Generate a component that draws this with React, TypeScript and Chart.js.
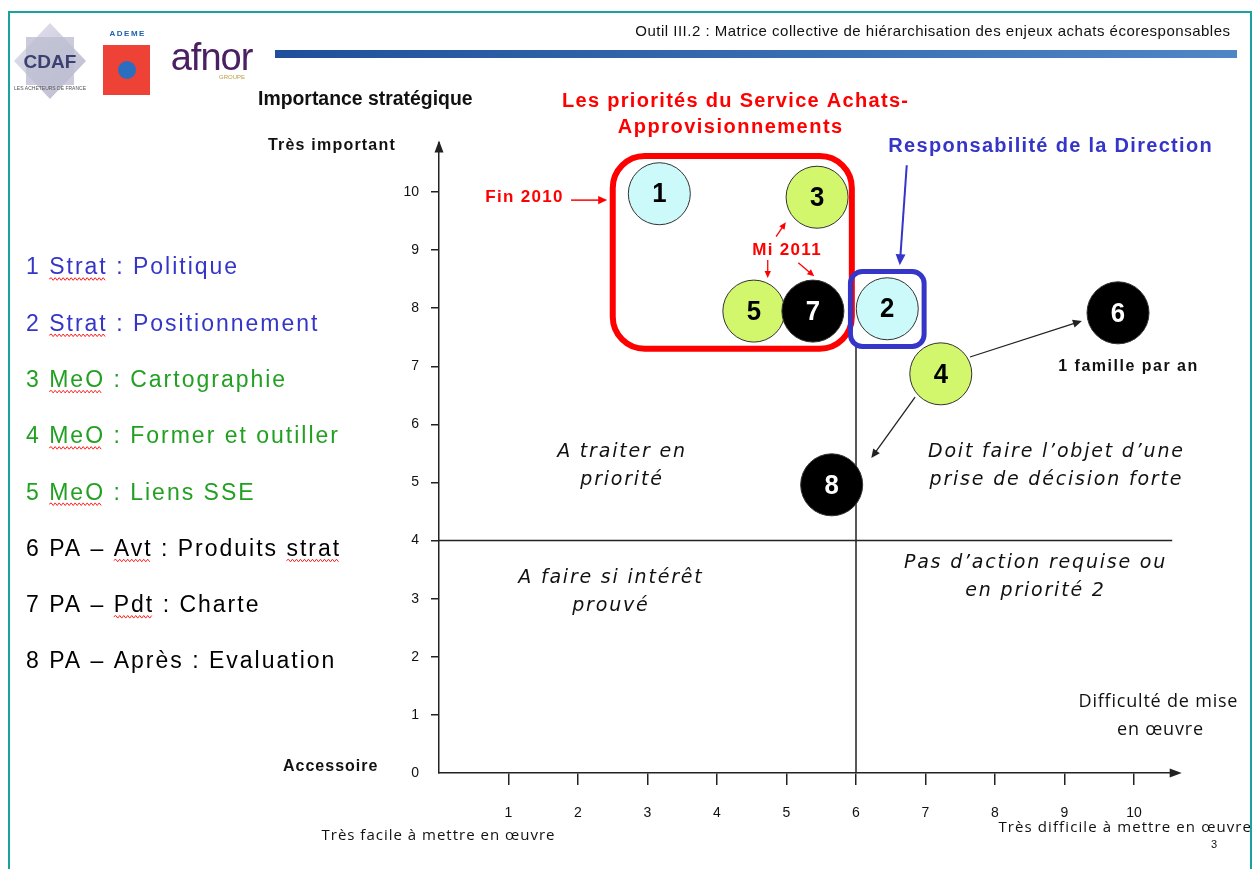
import React, { useEffect, useRef } from "react";
import { Chart, registerables } from "chart.js";

Chart.register(...registerables);

// ---------- data ----------
const issueIds = [1, 2, 3, 4, 5, 6, 7, 8];
const difficulty = [3.17, 6.45, 5.44, 7.22, 4.53, 9.77, 5.38, 5.65];
const importance = [9.97, 7.99, 9.91, 6.87, 7.95, 7.92, 7.95, 4.96];
const issueFamily = ["strat", "strat", "meo", "meo", "meo", "pa", "pa", "pa"];

const legendLabels = [
  "1 Strat : Politique",
  "2 Strat : Positionnement",
  "3 MeO : Cartographie",
  "4 MeO : Former et outiller",
  "5 MeO : Liens SSE",
  "6 PA \u2013 Avt : Produits strat",
  "7 PA \u2013 Pdt : Charte",
  "8 PA \u2013 Apr\u00e8s : Evaluation",
];
const legendUnderlined = [["Strat"], ["Strat"], ["MeO"], ["MeO"], ["MeO"], ["Avt", "strat"], ["Pdt"], []];

const quadrantLabels = [
  ["A traiter en", "priorit\u00e9"],
  ["A faire si int\u00e9r\u00eat", "prouv\u00e9"],
  ["Doit faire l\u2019objet d\u2019une", "prise de d\u00e9cision forte"],
  ["Pas d\u2019action requise ou", "en priorit\u00e9 2"],
];
const quadrantCenters = [
  [2.62, 5.28],
  [2.46, 3.12],
  [8.87, 5.28],
  [8.57, 3.37],
];

const xMin = 0, xMax = 10.6, yMin = 0, yMax = 10.85;
const splitX = 6, splitY = 4;

const FAMILY_FILL: Record<string, string> = { strat: "#CCFAFB", meo: "#D2F66C", pa: "#000000" };
const FAMILY_TEXT: Record<string, string> = { strat: "#3535C8", meo: "#22A022", pa: "#000000" };

const W = 1254, H = 869;
const AXIS_LEFT = 439, AXIS_BOTTOM = 773, PAD_TOP = 142.6, PAD_RIGHT = 78.3;

// ---------- helpers ----------
function txt(ctx: CanvasRenderingContext2D, s: string, x: number, y: number, font: string, color: string,
  align: "left" | "center" | "right" = "left", ls = 0, hs = 1) {
  ctx.save();
  ctx.font = font;
  ctx.fillStyle = color;
  ctx.textBaseline = "middle";
  ctx.textAlign = "left";
  (ctx as any).letterSpacing = ls + "px";
  const w = (ctx.measureText(s).width - ls) * hs;
  const x0 = align === "center" ? x - w / 2 : align === "right" ? x - w : x;
  ctx.translate(x0, y);
  ctx.scale(hs, 1);
  ctx.fillText(s, 0, 0);
  ctx.restore();
  return w;
}

function measure(ctx: CanvasRenderingContext2D, s: string, font: string, ls = 0) {
  ctx.save();
  ctx.font = font;
  (ctx as any).letterSpacing = ls + "px";
  const w = ctx.measureText(s).width;
  ctx.restore();
  return w;
}

function arrow(ctx: CanvasRenderingContext2D, x1: number, y1: number, x2: number, y2: number, color: string, lw: number, head: number) {
  const a = Math.atan2(y2 - y1, x2 - x1);
  ctx.save();
  ctx.strokeStyle = color;
  ctx.fillStyle = color;
  ctx.lineWidth = lw;
  ctx.beginPath();
  ctx.moveTo(x1, y1);
  ctx.lineTo(x2 - Math.cos(a) * head * 0.8, y2 - Math.sin(a) * head * 0.8);
  ctx.stroke();
  ctx.beginPath();
  ctx.moveTo(x2, y2);
  ctx.lineTo(x2 - head * Math.cos(a) + head * 0.45 * Math.sin(a), y2 - head * Math.sin(a) - head * 0.45 * Math.cos(a));
  ctx.lineTo(x2 - head * Math.cos(a) - head * 0.45 * Math.sin(a), y2 - head * Math.sin(a) + head * 0.45 * Math.cos(a));
  ctx.closePath();
  ctx.fill();
  ctx.restore();
}

function roundRect(ctx: CanvasRenderingContext2D, x1: number, y1: number, x2: number, y2: number, r: number, color: string, lw: number) {
  ctx.save();
  ctx.strokeStyle = color;
  ctx.lineWidth = lw;
  ctx.beginPath();
  (ctx as any).roundRect(Math.min(x1, x2), Math.min(y1, y2), Math.abs(x2 - x1), Math.abs(y2 - y1), r);
  ctx.stroke();
  ctx.restore();
}

function wavy(ctx: CanvasRenderingContext2D, x0: number, x1: number, y: number) {
  ctx.save();
  ctx.strokeStyle = "#ff2020";
  ctx.lineWidth = 1;
  ctx.beginPath();
  let up = true;
  ctx.moveTo(x0, y);
  for (let x = x0 + 2; x <= x1; x += 2) {
    ctx.lineTo(x, y + (up ? -1.3 : 1.3));
    up = !up;
  }
  ctx.stroke();
  ctx.restore();
}

const slidePlugin = {
  id: "slide",
  beforeDraw(chart: any) {
    const ctx: CanvasRenderingContext2D = chart.ctx;
    ctx.save();
    ctx.fillStyle = "#ffffff";
    ctx.fillRect(0, 0, W, H);

    // CDAF logo
    const cx = 50, cy = 61;
    const g = ctx.createLinearGradient(cx - 36, cy - 38, cx + 36, cy + 38);
    g.addColorStop(0, "#e4e4f0");
    g.addColorStop(1, "#b8b8cc");
    ctx.fillStyle = g;
    ctx.beginPath();
    ctx.moveTo(cx, cy - 38); ctx.lineTo(cx + 36, cy); ctx.lineTo(cx, cy + 38); ctx.lineTo(cx - 36, cy); ctx.closePath();
    ctx.fill();
    ctx.fillStyle = "rgba(190,190,210,0.8)";
    ctx.fillRect(cx - 24, cy - 24, 48, 48);
    txt(ctx, "CDAF", cx, cy + 2, "bold 19px 'Liberation Sans'", "#3b3f72", "center");
    txt(ctx, "LES ACHETEURS DE FRANCE", cx, cy + 28, "5px 'Liberation Sans'", "#555", "center");

    // ADEME logo
    txt(ctx, "ADEME", 127, 34, "bold 8px 'Liberation Sans'", "#2060b0", "center", 1.5);
    ctx.fillStyle = "#EE4236";
    ctx.fillRect(103, 45, 47, 50);
    ctx.fillStyle = "#2a6ec0";
    ctx.beginPath();
    ctx.arc(127, 70, 9, 0, Math.PI * 2);
    ctx.fill();

    // afnor logo
    txt(ctx, "afnor", 212, 60, "38px 'Liberation Sans'", "#4b2062", "center", -1);
    txt(ctx, "GROUPE", 232, 77, "6px 'Liberation Sans'", "#b8a040", "center");

    // title + bar
    txt(ctx, "Outil III.2 : Matrice collective de hi\u00e9rarchisation des enjeux achats \u00e9coresponsables",
      1230, 32, "15px 'Liberation Sans'", "#111", "right", 0.5);
    const bg = ctx.createLinearGradient(275, 0, 1237, 0);
    bg.addColorStop(0, "#1f4f9a");
    bg.addColorStop(1, "#4f86c6");
    ctx.fillStyle = bg;
    ctx.fillRect(275, 50, 962, 8);

    // axis captions
    txt(ctx, "Importance strat\u00e9gique", 258, 99, "bold 20px 'Liberation Sans'", "#111", "left", 0, 0.97);
    txt(ctx, "Tr\u00e8s important", 268, 146, "bold 16px 'Liberation Sans'", "#111", "left", 1.2);
    txt(ctx, "Accessoire", 283, 767, "bold 16px 'Liberation Sans'", "#111", "left", 1);
    txt(ctx, "Difficult\u00e9 de mise", 1158, 702, "18px 'Open Sans'", "#111", "center", 0.8);
    txt(ctx, "en \u0153uvre", 1160, 730, "18px 'Open Sans'", "#111", "center", 0.8);
    txt(ctx, "Tr\u00e8s facile \u00e0 mettre en \u0153uvre", 438, 836, "15px 'Open Sans'", "#111", "center", 1);
    txt(ctx, "Tr\u00e8s difficile \u00e0 mettre en \u0153uvre", 1251, 828, "15px 'Open Sans'", "#111", "right", 1.1);
    txt(ctx, "3", 1214, 845, "11px 'Liberation Sans'", "#111", "center");

    // frame (drawn over clipped caption)
    ctx.fillStyle = "#ffffff";
    ctx.fillRect(1252, 0, 2, H);
    ctx.strokeStyle = "#18A3A3";
    ctx.lineWidth = 2;
    ctx.strokeRect(9, 12, 1242, 880);

    // headings
    txt(ctx, "Les priorit\u00e9s du Service Achats-", 735, 101, "bold 20px 'Liberation Sans'", "#FF0000", "center", 1.3);
    txt(ctx, "Approvisionnements", 730, 127, "bold 20px 'Liberation Sans'", "#FF0000", "center", 1.5);
    txt(ctx, "Responsabilit\u00e9 de la Direction", 1050, 146, "bold 20px 'Liberation Sans'", "#3535C8", "center", 1.3);

    // legend
    const lfont = "23px 'Liberation Sans'";
    const lls = 2;
    legendLabels.forEach((s, i) => {
      const y = 268 + i * 56.3;
      const col = FAMILY_TEXT[issueFamily[i]];
      txt(ctx, s, 26, y, lfont, col, "left", lls);
      legendUnderlined[i].forEach((word) => {
        const idx = word === "strat" ? s.lastIndexOf(word) : s.indexOf(word);
        if (idx < 0) return;
        const x0 = 26 + measure(ctx, s.slice(0, idx), lfont, lls);
        const x1 = x0 + measure(ctx, word, lfont, lls) - lls;
        wavy(ctx, x0, x1, y + 11);
      });
    });
    ctx.restore();
  },
  beforeDatasetsDraw(chart: any) {
    const ctx: CanvasRenderingContext2D = chart.ctx;
    const xs = chart.scales.x, ys = chart.scales.y;
    ctx.save();
    ctx.strokeStyle = "#222";
    ctx.lineWidth = 1.5;
    ctx.beginPath();
    ctx.moveTo(xs.getPixelForValue(splitX), ys.getPixelForValue(7.35));
    ctx.lineTo(xs.getPixelForValue(splitX), ys.getPixelForValue(0));
    ctx.moveTo(xs.getPixelForValue(0), ys.getPixelForValue(splitY));
    ctx.lineTo(xs.getPixelForValue(10.55), ys.getPixelForValue(splitY));
    ctx.stroke();
    // axis arrow heads
    const ca = chart.chartArea;
    ctx.fillStyle = "#222";
    ctx.beginPath();
    ctx.moveTo(ca.left, ca.top - 2); ctx.lineTo(ca.left - 4.5, ca.top + 10); ctx.lineTo(ca.left + 4.5, ca.top + 10); ctx.closePath();
    ctx.fill();
    ctx.beginPath();
    ctx.moveTo(ca.right + 6, ca.bottom); ctx.lineTo(ca.right - 6, ca.bottom - 4.5); ctx.lineTo(ca.right - 6, ca.bottom + 4.5); ctx.closePath();
    ctx.fill();
    ctx.restore();
  },
  afterDatasetsDraw(chart: any) {
    const ctx: CanvasRenderingContext2D = chart.ctx;
    const xs = chart.scales.x, ys = chart.scales.y;
    const px = (v: number) => xs.getPixelForValue(v);
    const py = (v: number) => ys.getPixelForValue(v);
    ctx.save();
    const meta = chart.getDatasetMeta(0);
    meta.data.forEach((el: any, i: number) => {
      const col = issueFamily[i] === "pa" ? "#ffffff" : "#000000";
      txt(ctx, String(issueIds[i]), el.x, el.y + 1, "bold 28px 'Liberation Sans'", col, "center", 0, 0.92);
    });

    // boxes
    roundRect(ctx, px(2.5), py(10.62), px(5.94), py(7.3), 32, "#FF0000", 6);
    roundRect(ctx, px(5.92), py(8.63), px(6.98), py(7.34), 12, "#3535C8", 5);

    // arrows
    arrow(ctx, px(6.73), py(10.46), px(6.63), py(8.74), "#3535C8", 2, 11);
    arrow(ctx, px(1.9), py(9.86), px(2.42), py(9.86), "#FF0000", 1.5, 9);
    arrow(ctx, px(4.85), py(9.23), px(4.99), py(9.48), "#FF0000", 1.3, 7);
    arrow(ctx, px(4.73), py(8.83), px(4.73), py(8.52), "#FF0000", 1.3, 7);
    arrow(ctx, px(5.17), py(8.78), px(5.4), py(8.55), "#FF0000", 1.3, 7);
    arrow(ctx, px(7.64), py(7.16), px(9.25), py(7.78), "#222", 1.3, 9);
    arrow(ctx, px(6.85), py(6.47), px(6.22), py(5.42), "#222", 1.3, 9);

    // annotation labels
    txt(ctx, "Fin 2010", px(1.22), py(9.91), "bold 17px 'Liberation Sans'", "#FF0000", "center", 1.3);
    txt(ctx, "Mi 2011", px(5.0), py(9.0), "bold 17px 'Liberation Sans'", "#FF0000", "center", 1.3);
    txt(ctx, "1 famille par an", px(9.91), py(6.99), "bold 16px 'Liberation Sans'", "#111", "center", 1.5);

    const qfont = "italic 19px 'DejaVu Sans'";
    quadrantLabels.forEach((lines, i) => {
      const cxp = px(quadrantCenters[i][0]);
      const cyp = py(quadrantCenters[i][1]);
      lines.forEach((ln, j) => {
        txt(ctx, ln, cxp, cyp + (j - (lines.length - 1) / 2) * 28, qfont, "#111", "center", 1.8);
      });
    });
    ctx.restore();
  },
};

export default function App() {
  const ref = useRef<HTMLCanvasElement | null>(null);
  useEffect(() => {
    if (!ref.current) return;
    const chart = new Chart(ref.current, {
      type: "scatter",
      data: {
        datasets: [
          {
            data: issueIds.map((_, i) => ({ x: difficulty[i], y: importance[i] })),
            pointRadius: 31,
            pointHoverRadius: 31,
            pointBackgroundColor: issueFamily.map((f) => FAMILY_FILL[f]),
            pointBorderColor: "#333",
            pointBorderWidth: 1,
            clip: false,
          } as any,
        ],
      },
      options: {
        responsive: false,
        animation: false,
        events: [],
        layout: { padding: { left: 0, top: PAD_TOP, right: PAD_RIGHT, bottom: 0 } },
        plugins: { legend: { display: false }, tooltip: { enabled: false } },
        scales: {
          x: {
            type: "linear",
            min: xMin,
            max: xMax,
            afterFit: (s: any) => { s.height = H - AXIS_BOTTOM; },
            ticks: {
              stepSize: 1,
              includeBounds: false,
              padding: 20,
              color: "#111",
              maxRotation: 0,
              autoSkip: false,
              font: { family: "'Liberation Sans'", size: 14 },
              callback: (v: any) => (v === 0 ? "" : String(v)),
            },
            grid: {
              drawOnChartArea: false,
              tickLength: 12,
              lineWidth: 1.5,
              color: (c: any) => (c.tick && c.tick.value === 0 ? "rgba(0,0,0,0)" : "#222"),
            },
            border: { color: "#222", width: 1.5 },
          },
          y: {
            type: "linear",
            min: yMin,
            max: yMax,
            afterFit: (s: any) => { s.width = AXIS_LEFT; },
            ticks: {
              stepSize: 1,
              includeBounds: false,
              padding: 12,
              color: "#111",
              font: { family: "'Liberation Sans'", size: 14 },
            },
            grid: {
              drawOnChartArea: false,
              tickLength: 8,
              lineWidth: 1.5,
              color: (c: any) => (c.tick && c.tick.value === 0 ? "rgba(0,0,0,0)" : "#222"),
            },
            border: { color: "#222", width: 1.5 },
          },
        },
      } as any,
      plugins: [slidePlugin],
    });
    return () => chart.destroy();
  }, []);
  return (
    <div style={{ position: "absolute", left: 0, top: 0, width: W, height: H, background: "#fff", overflow: "hidden" }}>
      <canvas ref={ref} width={W} height={H} style={{ width: W, height: H, display: "block" }} />
    </div>
  );
}
